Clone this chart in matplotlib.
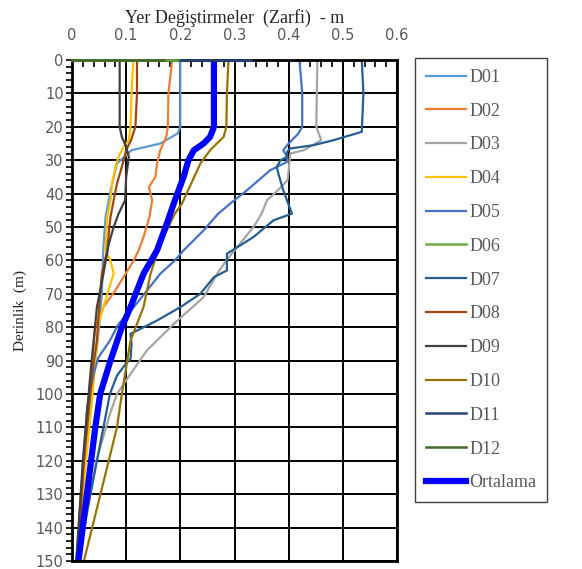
import matplotlib
matplotlib.use("Agg")
import matplotlib.pyplot as plt
from matplotlib.ticker import MultipleLocator

# depth profiles (m) and envelope displacements (m)
d01_depth = [0, 20, 22, 25, 27, 31, 40, 47, 56, 70, 80, 94, 110, 130, 150]
d01_x = [0.20, 0.20, 0.195, 0.163, 0.11, 0.083, 0.07, 0.062, 0.058, 0.055, 0.05, 0.04, 0.028, 0.018, 0.01]

d02_depth = [0, 10, 20, 23, 27, 31, 35, 38, 42, 47, 53, 57, 60, 69, 74, 80, 100, 120, 150]
d02_x = [0.185, 0.178, 0.177, 0.174, 0.163, 0.157, 0.154, 0.142, 0.148, 0.143, 0.132, 0.123, 0.114, 0.08, 0.058, 0.043, 0.032, 0.022, 0.012]

d03_depth = [0, 10, 20, 24, 27, 28, 33, 36, 39, 42, 46, 50, 55, 60, 64, 71, 79, 87, 94, 100, 106, 120, 150]
d03_x = [0.453, 0.452, 0.451, 0.46, 0.428, 0.403, 0.40, 0.398, 0.38, 0.36, 0.35, 0.335, 0.31, 0.285, 0.268, 0.243, 0.188, 0.138, 0.108, 0.083, 0.07, 0.045, 0.012]

d04_depth = [0, 10, 20, 24, 26, 29, 32, 37, 42, 47, 57, 60, 64, 67, 74, 79, 100, 130, 150]
d04_x = [0.113, 0.11, 0.108, 0.105, 0.095, 0.086, 0.08, 0.074, 0.071, 0.065, 0.062, 0.071, 0.077, 0.071, 0.058, 0.049, 0.038, 0.02, 0.01]

d05_depth = [0, 10, 20, 22, 25, 27, 29, 30.5, 33, 39, 43, 46, 51, 57, 60, 64, 74, 79, 84, 89, 94, 104, 150]
d05_x = [0.42, 0.425, 0.425, 0.418, 0.40, 0.39, 0.397, 0.397, 0.366, 0.323, 0.292, 0.27, 0.243, 0.206, 0.19, 0.163, 0.114, 0.086, 0.07, 0.049, 0.04, 0.028, 0.008]

d06_depth = [0, 0]
d06_x = [0.0, 0.20]

d07_depth = [0, 10, 21.5, 24, 25.5, 26.5, 27.5, 29, 30, 32, 34, 39, 46, 48, 53, 58, 63, 65, 70, 74, 78, 82, 85, 89.5, 91, 94.5, 100, 110, 150]
d07_x = [0.535, 0.538, 0.535, 0.483, 0.446, 0.403, 0.397, 0.397, 0.385, 0.378, 0.381, 0.39, 0.406, 0.372, 0.335, 0.286, 0.286, 0.262, 0.237, 0.20, 0.157, 0.108, 0.11, 0.108, 0.099, 0.083, 0.07, 0.058, 0.01]

d08_depth = [0, 10, 20, 24, 27, 32, 37, 42, 47, 57, 64, 74, 84, 94, 120, 150]
d08_x = [0.12, 0.12, 0.117, 0.109, 0.10, 0.092, 0.083, 0.077, 0.071, 0.065, 0.055, 0.05, 0.046, 0.037, 0.022, 0.01]

d09_depth = [0, 20, 23, 26, 29, 35, 42, 46, 50, 55, 64, 74, 84, 94, 120, 150]
d09_x = [0.088, 0.088, 0.092, 0.10, 0.105, 0.10, 0.098, 0.086, 0.077, 0.068, 0.058, 0.046, 0.04, 0.034, 0.02, 0.008]

d10_depth = [0, 10, 20, 23, 27, 31, 37, 43, 46, 50, 54, 64, 74, 84, 94, 100, 110, 150]
d10_x = [0.289, 0.286, 0.285, 0.28, 0.255, 0.237, 0.22, 0.203, 0.19, 0.178, 0.165, 0.145, 0.132, 0.108, 0.098, 0.092, 0.083, 0.022]

d11_depth = [0, 0]
d11_x = [0.20, 0.33]

d12_depth = [0, 0]
d12_x = [0.0, 0.17]

ort_depth = [0, 10, 20, 23, 25, 27, 30, 35, 42, 49, 57, 64, 74, 80, 90, 100, 110, 150]
ort_x = [0.262, 0.262, 0.262, 0.255, 0.243, 0.225, 0.215, 0.206, 0.19, 0.175, 0.157, 0.132, 0.108, 0.092, 0.071, 0.052, 0.043, 0.012]

x_ticks = [0, 0.1, 0.2, 0.3, 0.4, 0.5, 0.6]
x_ticklabels = ["0", "0.1", "0.2", "0.3", "0.4", "0.5", "0.6"]

series = [
    ("D01", d01_x, d01_depth, "#5B9BD5"),
    ("D02", d02_x, d02_depth, "#ED7D31"),
    ("D03", d03_x, d03_depth, "#A5A5A5"),
    ("D04", d04_x, d04_depth, "#FFC000"),
    ("D05", d05_x, d05_depth, "#4472C4"),
    ("D06", d06_x, d06_depth, "#70AD47"),
    ("D07", d07_x, d07_depth, "#255E91"),
    ("D08", d08_x, d08_depth, "#9E480E"),
    ("D09", d09_x, d09_depth, "#404040"),
    ("D10", d10_x, d10_depth, "#997300"),
    ("D11", d11_x, d11_depth, "#264478"),
    ("D12", d12_x, d12_depth, "#43682B"),
]

fig = plt.figure(figsize=(5.82, 5.69), dpi=100)
ax = fig.add_axes([72/582, 1 - 561/569, 325/582, 501/569])

for name, xs, ds, col in series:
    flat = max(ds) == 0
    # the flat profiles sit on the top edge, keep them visible over the frame
    ax.plot(xs, ds, color=col, lw=1.8 if flat else 1.6, label=name,
            clip_on=not flat, zorder=3 if flat else 2)
ax.plot(ort_x, ort_depth, color="#0000FF", lw=4.5, label="Ortalama")

ax.set_xlim(0, 0.6)
ax.set_ylim(150, 0)
ax.set_xticks(x_ticks)
ax.set_xticklabels(x_ticklabels)
ax.xaxis.set_minor_locator(MultipleLocator(0.02))
ax.yaxis.set_major_locator(MultipleLocator(10))
ax.yaxis.set_minor_locator(MultipleLocator(2))
ax.xaxis.tick_top()
ax.xaxis.set_label_position("top")
ax.tick_params(axis="x", which="minor", direction="in", length=5, width=1.2,
               top=True, bottom=False)
ax.tick_params(axis="x", which="major", length=0, labelsize=10.5,
               labelcolor="#595959", pad=12)
ax.tick_params(axis="y", which="both", direction="out", length=4, width=1.2,
               labelsize=10.5, labelcolor="#595959", pad=2)
ax.grid(True, which="major", color="black", lw=1.4)
for sp in ax.spines.values():
    sp.set_linewidth(2)

ax.set_xlabel("Yer Değiştirmeler  (Zarfi)  - m", family="Liberation Serif",
              fontsize=13, color="#262626", labelpad=4)
ax.set_ylabel("Derinlik  (m)", family="Liberation Serif", fontsize=11,
              color="#262626", labelpad=6)

leg = fig.legend(loc="upper left", bbox_to_anchor=(415/582, 1 - 58/569),
                 prop={"family": "Liberation Serif", "size": 13},
                 labelspacing=0.93, handlelength=2.2, handletextpad=0.2,
                 borderpad=0.6, borderaxespad=0, fancybox=False,
                 edgecolor="#404040", framealpha=1)
leg.get_frame().set_linewidth(1.0)
for t in leg.get_texts():
    t.set_color("#595959")

fig.savefig("out.png", dpi=100)
